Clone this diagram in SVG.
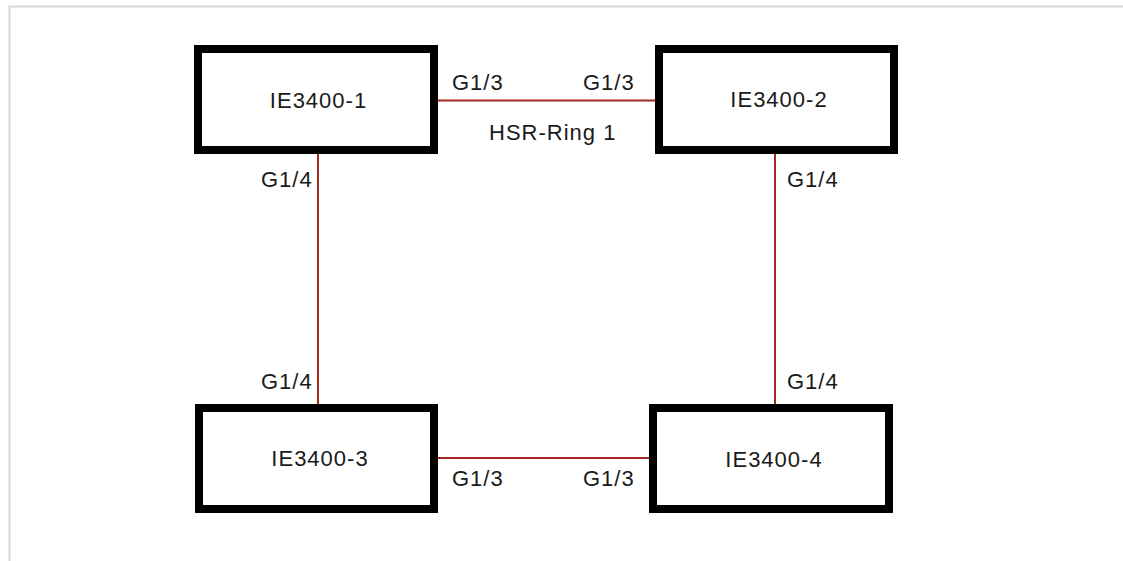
<svg xmlns="http://www.w3.org/2000/svg" width="1123" height="561" viewBox="0 0 1123 561">
<style>
.frame{fill:none;stroke:#d5d8e0;stroke-width:2}
.node{fill:#ffffff;stroke:#000000;stroke-width:8}
.link{stroke:#a3291f;stroke-width:2;fill:none}
.lbl{font-family:"Liberation Sans",Arial,sans-serif;font-size:22px;fill:#1a1a1a;letter-spacing:1px}
.nl{text-anchor:middle}
</style>
<rect width="1123" height="561" fill="#ffffff"/>
<path class="frame" d="M9.5 561 V6.5 H1123"/>
<g id="connectors">
<line class="link" x1="438" y1="100.5" x2="655" y2="100.5"/>
<line class="link" x1="318" y1="153" x2="318" y2="404"/>
<line class="link" x1="775" y1="154" x2="775" y2="404"/>
<line class="link" x1="438" y1="458" x2="649" y2="458"/>
<text class="lbl" x="452" y="89.5">G1/3</text>
<text class="lbl" x="583" y="89.5">G1/3</text>
<text class="lbl" x="489" y="139.5">HSR-Ring 1</text>
<text class="lbl" x="261" y="187">G1/4</text>
<text class="lbl" x="787" y="187">G1/4</text>
<text class="lbl" x="261" y="388.5">G1/4</text>
<text class="lbl" x="787" y="388.5">G1/4</text>
<text class="lbl" x="452" y="486">G1/3</text>
<text class="lbl" x="583" y="486">G1/3</text>
</g>
<g id="IE3400-1">
<rect class="node" x="198" y="49" width="236" height="101"/>
<text class="lbl nl" x="318.5" y="108">IE3400-1</text>
</g>
<g id="IE3400-2">
<rect class="node" x="659" y="49" width="235" height="101"/>
<text class="lbl nl" x="779" y="107">IE3400-2</text>
</g>
<g id="IE3400-3">
<rect class="node" x="199" y="408" width="235" height="101"/>
<text class="lbl nl" x="320" y="466">IE3400-3</text>
</g>
<g id="IE3400-4">
<rect class="node" x="653" y="408" width="236" height="101"/>
<text class="lbl nl" x="774" y="466.5">IE3400-4</text>
</g>
</svg>
